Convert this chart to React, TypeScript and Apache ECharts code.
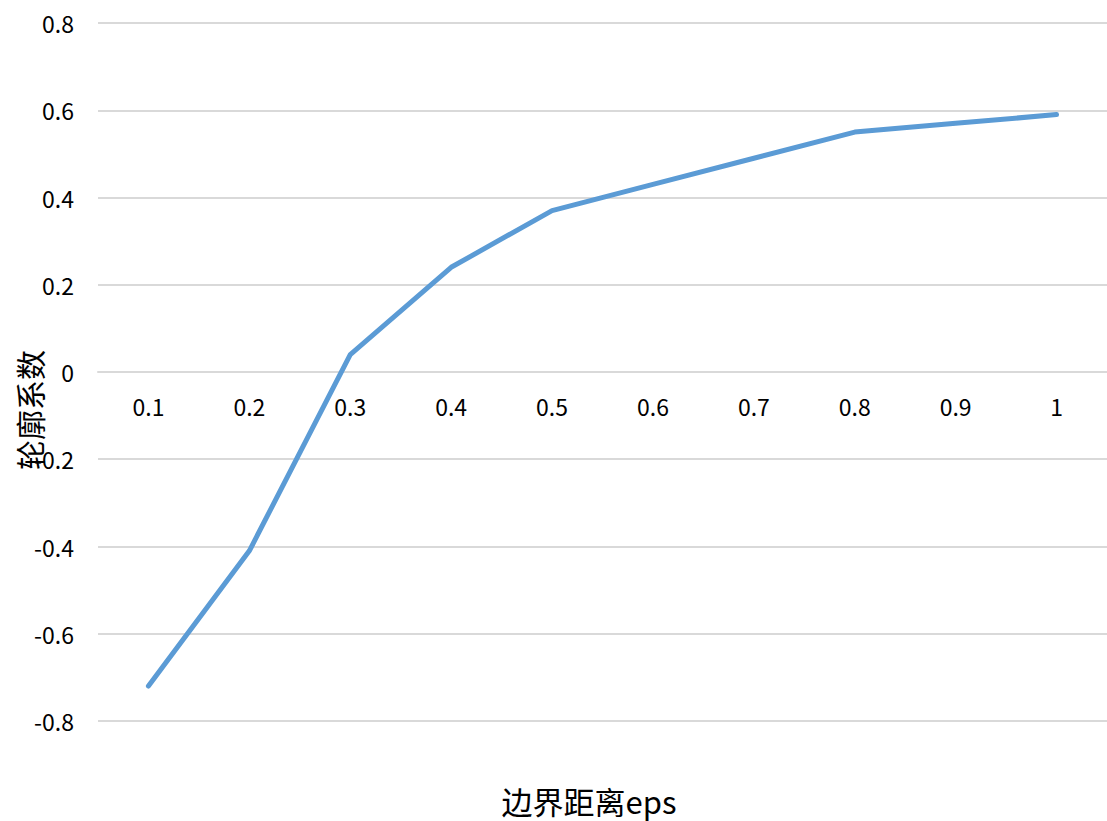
import React, { useEffect, useRef } from "react";
import * as echarts from "echarts";

// eps values on the category axis
const epsValues = ["0.1", "0.2", "0.3", "0.4", "0.5", "0.6", "0.7", "0.8", "0.9", "1"];
// silhouette coefficient for each eps
const silhouette = [-0.72, -0.41, 0.04, 0.24, 0.37, 0.43, 0.49, 0.55, 0.57, 0.59];

const yAxisTitle = "轮廓系数";
const xAxisTitle = "边界距离eps";

const FONT = "'Noto Sans CJK SC', 'Noto Sans', sans-serif";

const GRID_TOP = 23;
const GRID_BOTTOM = 100;
const CHART_H = 821;

export default function App() {
  const ref = useRef<HTMLDivElement>(null);

  useEffect(() => {
    if (!ref.current) return;
    const chart = echarts.init(ref.current, null, { renderer: "svg" });
    // the category axis sits on the zero line, halfway down the plot
    const plotH = CHART_H - GRID_TOP - GRID_BOTTOM;
    const zeroOffset = -plotH / 2;
    chart.setOption({
      animation: false,
      backgroundColor: "#ffffff",
      grid: { left: 98, right: 0, top: GRID_TOP, bottom: GRID_BOTTOM },
      xAxis: {
        type: "category",
        data: epsValues,
        boundaryGap: true,
        position: "bottom",
        offset: zeroOffset,
        axisLine: { onZero: false, lineStyle: { color: "#d9d9d9", width: 2 } },
        axisTick: { show: false },
        axisLabel: {
          color: "#000000",
          fontSize: 23,
          fontFamily: FONT,
          margin: 22,
        },
        splitLine: { show: false },
      },
      yAxis: {
        type: "value",
        min: -0.8,
        max: 0.8,
        interval: 0.2,
        axisLine: { show: false },
        axisTick: { show: false },
        axisLabel: {
          color: "#000000",
          fontSize: 23,
          fontFamily: FONT,
          margin: 24,
          formatter: (v: number) => {
            const r = Math.round(v * 10) / 10;
            return r === 0 ? "0" : String(r);
          },
        },
        splitLine: { lineStyle: { color: "#d9d9d9", width: 2 } },
      },
      series: [
        {
          type: "line",
          data: silhouette,
          symbol: "none",
          lineStyle: { color: "#5b9bd5", width: 5, cap: "round", join: "round" },
        },
      ],
      graphic: [
        {
          type: "text",
          x: 29,
          y: 410,
          rotation: Math.PI / 2,
          style: {
            text: yAxisTitle,
            fill: "#000000",
            font: `30px ${FONT}`,
            textAlign: "center",
            textVerticalAlign: "middle",
          },
        },
        {
          type: "text",
          x: 589,
          y: 800,
          style: {
            text: xAxisTitle,
            fill: "#000000",
            font: `31px ${FONT}`,
            textAlign: "center",
            textVerticalAlign: "middle",
          },
        },
      ],
    });
    return () => chart.dispose();
  }, []);

  return (
    <div
      ref={ref}
      style={{ position: "fixed", left: 0, top: 0, width: 1107, height: CHART_H }}
    />
  );
}
